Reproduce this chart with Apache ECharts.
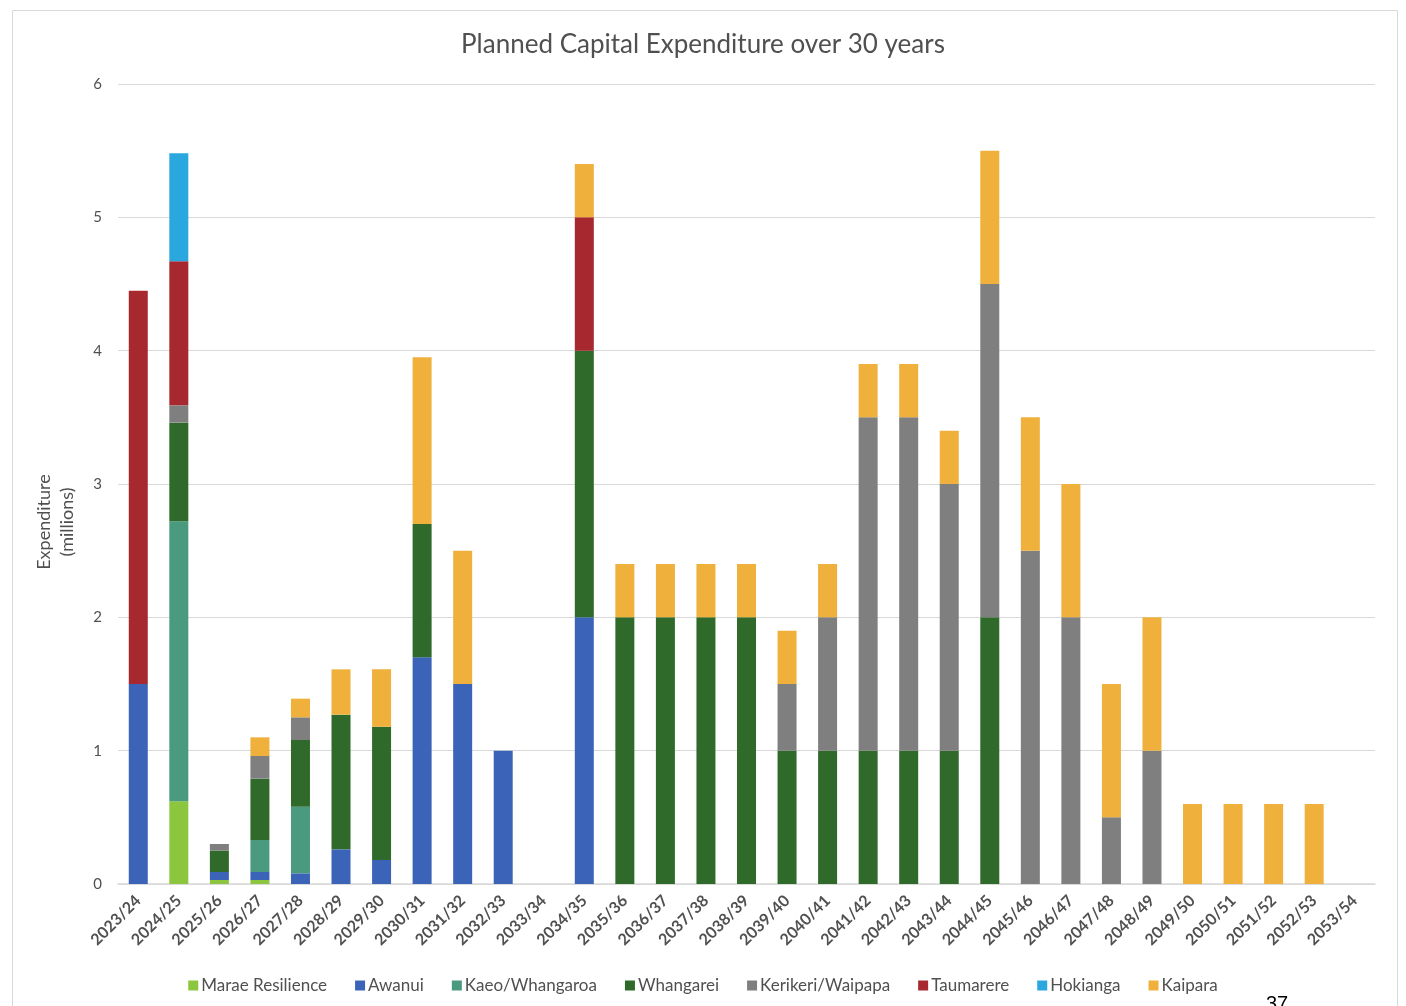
<!DOCTYPE html>
<html><head><meta charset="utf-8">
<script src="https://cdn.jsdelivr.net/npm/echarts@6/dist/echarts.min.js"></script>
<style>html,body{margin:0;padding:0;background:#fff}#c{width:1406px;height:1006px}</style>
</head><body><div id="c"></div>
<script>
const categories = ['2023/24','2024/25','2025/26','2026/27','2027/28','2028/29','2029/30','2030/31','2031/32','2032/33','2033/34','2034/35','2035/36','2036/37','2037/38','2038/39','2039/40','2040/41','2041/42','2042/43','2043/44','2044/45','2045/46','2046/47','2047/48','2048/49','2049/50','2050/51','2051/52','2052/53','2053/54'];
const maraeResilience = [0,0.62,0.03,0.03,0,0,0,0,0,0,0,0,0,0,0,0,0,0,0,0,0,0,0,0,0,0,0,0,0,0,0];
const awanui =          [1.5,0,0.06,0.06,0.08,0.26,0.18,1.7,1.5,1.0,0,2,0,0,0,0,0,0,0,0,0,0,0,0,0,0,0,0,0,0,0];
const kaeoWhangaroa =   [0,2.1,0,0.24,0.5,0,0,0,0,0,0,0,0,0,0,0,0,0,0,0,0,0,0,0,0,0,0,0,0,0,0];
const whangarei =       [0,0.74,0.16,0.46,0.5,1.01,1.0,1.0,0,0,0,2,2,2,2,2,1,1,1,1,1,2,0,0,0,0,0,0,0,0,0];
const kerikeriWaipapa = [0,0.13,0.05,0.17,0.17,0,0,0,0,0,0,0,0,0,0,0,0.5,1,2.5,2.5,2,2.5,2.5,2,0.5,1,0,0,0,0,0];
const taumarere =       [2.95,1.08,0,0,0,0,0,0,0,0,0,1,0,0,0,0,0,0,0,0,0,0,0,0,0,0,0,0,0,0,0];
const hokianga =        [0,0.81,0,0,0,0,0,0,0,0,0,0,0,0,0,0,0,0,0,0,0,0,0,0,0,0,0,0,0,0,0];
const kaipara =         [0,0,0,0.14,0.14,0.34,0.43,1.25,1.0,0,0,0.4,0.4,0.4,0.4,0.4,0.4,0.4,0.4,0.4,0.4,1.0,1.0,1.0,1.0,1.0,0.6,0.6,0.6,0.6,0];
const yTicks = [0,1,2,3,4,5,6];

const seriesDefs = [
  ['Marae Resilience', maraeResilience, '#8cc63e'],
  ['Awanui', awanui, '#3b64b9'],
  ['Kaeo/Whangaroa', kaeoWhangaroa, '#4a9a80'],
  ['Whangarei', whangarei, '#2f6a2b'],
  ['Kerikeri/Waipapa', kerikeriWaipapa, '#7f7f7f'],
  ['Taumarere', taumarere, '#a7282f'],
  ['Hokianga', hokianga, '#2aa7de'],
  ['Kaipara', kaipara, '#efb03c']
];
const font = 'Lato, "Open Sans", sans-serif';
const chart = echarts.init(document.getElementById('c'));
chart.setOption({
  animation: false,
  backgroundColor: '#fff',
  title: {text: 'Planned Capital Expenditure over 30 years', left: 'center', top: 27,
    textStyle: {fontFamily: font, fontSize: 26, fontWeight: 'normal', color: '#505050'}},
  graphic: [
    {type: 'rect', shape: {x: 12.5, y: 10.5, width: 1385, height: 1010}, style: {fill: 'none', stroke: '#d9d9d9', lineWidth: 1}, z: -1},
    {type: 'text', x: 56, y: 522, rotation: Math.PI / 2, style: {text: 'Expenditure\n(millions)', font: '18px Lato, sans-serif', fill: '#505050', align: 'center', verticalAlign: 'middle', lineHeight: 23}},
    {type: 'text', left: 1266, top: 994, style: {text: '37', font: '20px Liberation Sans, sans-serif', fill: '#000'}}
  ],
  grid: {left: 118, right: 31, top: 84, bottom: 122},
  legend: {bottom: 7, left: 'center', itemWidth: 10, itemHeight: 10, itemGap: 28, icon: 'rect',
    textStyle: {fontFamily: font, fontSize: 17, color: '#505050', padding: [0,0,0,-2]},
    data: seriesDefs.map(s => s[0])},
  xAxis: {type: 'category', data: categories,
    axisLine: {lineStyle: {color: '#d9d9d9', width: 1.5}}, axisTick: {show: false},
    axisLabel: {rotate: 45, interval: 0, fontFamily: font, fontSize: 16, fontWeight: 'bold', color: '#505050', margin: 14}},
  yAxis: {type: 'value', min: 0, max: 6, interval: 1,
    axisLine: {show: false}, axisTick: {show: false},
    axisLabel: {fontFamily: font, fontSize: 15, color: '#505050', margin: 16, formatter: v => yTicks.includes(v) ? String(v) : ''},
    splitLine: {lineStyle: {color: '#d9d9d9', width: 1}}},
  series: seriesDefs.map(s => ({name: s[0], type: 'bar', stack: 'total', data: s[1], barWidth: 19,
    itemStyle: {color: s[2]}}))
});
</script></body></html>
